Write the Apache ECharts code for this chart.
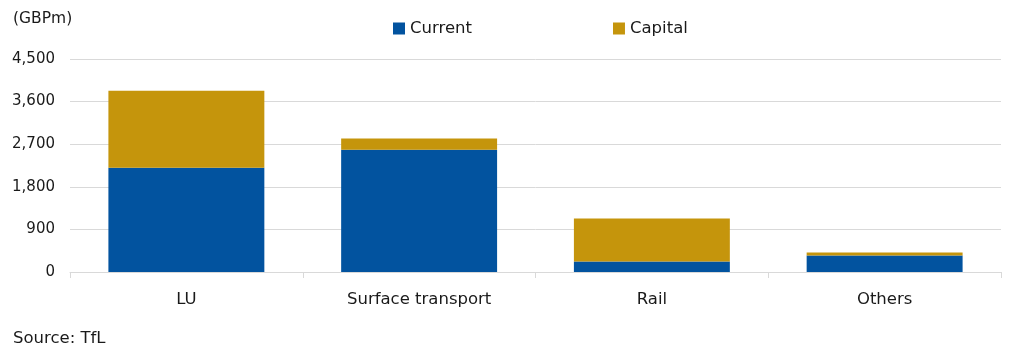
<!DOCTYPE html>
<html>
<head>
<meta charset="utf-8">
<script src="https://cdn.jsdelivr.net/npm/echarts@6/dist/echarts.min.js"></script>
<style>
html,body{margin:0;padding:0;background:#fff;}
#chart{width:1014px;height:357px;}
</style>
</head>
<body>
<div id="chart"></div>
<script>
const categories = ['LU', 'Surface transport', 'Rail', 'Others'];
const currentValues = [2205, 2585, 222, 348];
const capitalValues = [1625, 233, 907, 64];
const yTicks = [0, 900, 1800, 2700, 3600, 4500];

const FONT = 'DejaVu Sans';
const chart = echarts.init(document.getElementById('chart'));
chart.setOption({
  animation: false,
  textStyle: { fontFamily: FONT },
  grid: { left: 70, right: 13, top: 59, bottom: 85, containLabel: false },
  legend: {
    top: 15,
    left: 388,
    itemWidth: 12,
    itemHeight: 12,
    itemGap: 141,
    icon: 'rect',
    textStyle: { fontSize: 16.5, color: '#1a1a1a', fontFamily: FONT },
    data: ['Current', 'Capital']
  },
  graphic: [
    { type: 'text', left: 13, top: 11, style: { text: '(GBPm)', fontSize: 15.5, fill: '#1a1a1a', fontFamily: FONT } },
    { type: 'text', left: 13, top: 330, style: { text: 'Source: TfL', fontSize: 16.5, fill: '#1a1a1a', fontFamily: FONT } }
  ],
  xAxis: {
    type: 'category',
    data: categories,
    axisLine: { lineStyle: { color: '#d9d9d9', width: 1 } },
    axisTick: { show: true, length: 6, lineStyle: { color: '#d9d9d9' } },
    axisLabel: { fontSize: 16.5, color: '#1a1a1a', margin: 19, fontFamily: FONT }
  },
  yAxis: {
    type: 'value',
    min: 0,
    max: 4500,
    interval: 900,
    axisLine: { show: false },
    axisTick: { show: false },
    splitLine: { lineStyle: { color: '#d9d9d9', width: 1 } },
    axisLabel: {
      fontSize: 15, color: '#1a1a1a', margin: 15, fontFamily: FONT,
      formatter: v => yTicks.includes(v) ? v.toLocaleString('en-US') : ''
    }
  },
  series: [
    { name: 'Current', type: 'bar', stack: 'total', barWidth: '67%', data: currentValues, itemStyle: { color: '#02539F' } },
    { name: 'Capital', type: 'bar', stack: 'total', barWidth: '67%', data: capitalValues, itemStyle: { color: '#C5950C' } }
  ]
});
</script>
</body>
</html>
